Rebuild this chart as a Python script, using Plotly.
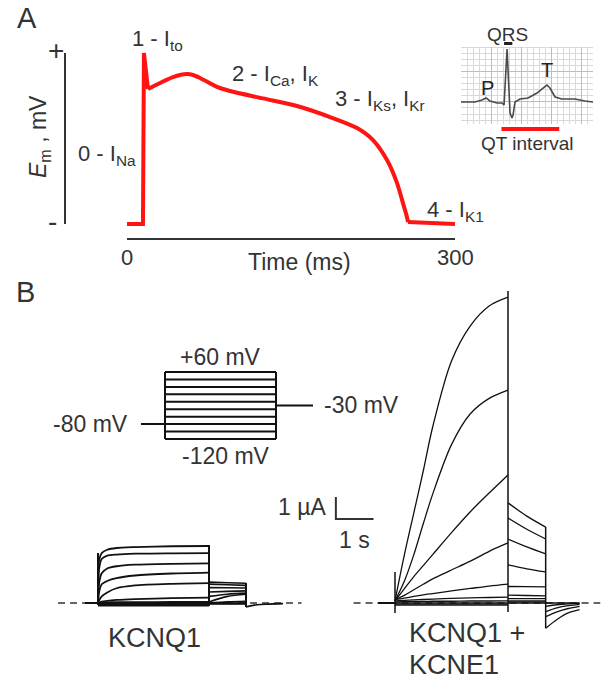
import plotly.graph_objects as go

W, H = 608, 698
INK = "#111111"
TEXT = "#333333"
RED = "#ff1414"
FONT = "Liberation Sans, Arial, Helvetica, sans-serif"

# ---------------- Panel A: ventricular action potential (schematic) ----------------
ap_time_ms = [0, 14.6, 15.5, 19.2, 30.2, 42.1, 54.9, 60.4, 66.8, 82.3, 94.2, 124.4,
              155.5, 185.7, 210.4, 225.0, 237.8, 247.0, 252.4, 256.1, 257.0, 300]
ap_mv = [-85, -85, 45, 17.6, 22.2, 26.7, 29.0, 28.3, 26.0, 19.2, 16.1, 10.5,
         4.7, -3.7, -12.1, -21.2, -36.4, -53.9, -69.1, -79.8, -83.5, -85]
ap_time_ticks = [0, 300]
ap_mv_span = [-85, 45]

# ---------------- ECG inset ----------------
ecg_t_s = [0, 0.093, 0.14, 0.167, 0.193, 0.24, 0.273, 0.287, 0.307, 0.327, 0.34, 0.347,
           0.36, 0.393, 0.447, 0.507, 0.547, 0.573, 0.593, 0.627, 0.673, 0.76, 0.827, 0.88]
ecg_mv = [0, 0, 0.033, 0.067, 0.017, -0.017, -0.017, -0.05, 0.883, -0.183, -0.267, -0.217,
          0, 0.05, 0.067, 0.15, 0.233, 0.283, 0.233, 0.083, 0.05, 0.05, 0.017, 0]
qt_interval_s = [0.27, 0.655]
qrs_marker_s = [0.287, 0.34]

# ---------------- Panel B: voltage protocol ----------------
step_mv = [60, 40, 20, 0, -20, -40, -60, -80, -100, -120]
holding_mv = -80
tail_mv = -30
hold_t_s = [-0.65, 0]
pulse_t_s = [0, 3]
tail_t_s = [3, 4]

# ---------------- KCNQ1 currents (uA), one row per step, +60 mV first ----------------
kcnq1_pulse_t = [0, 0.03, 0.1, 0.25, 0.5, 1.0, 2.0, 3.0]
kcnq1_pulse_ua = [
    [0, 1.95, 2.27, 2.42, 2.50, 2.54, 2.58, 2.59],
    [0, 1.55, 2.00, 2.15, 2.20, 2.24, 2.26, 2.27],
    [0, 0.90, 1.35, 1.57, 1.67, 1.74, 1.78, 1.80],
    [0, 0.50, 0.85, 1.00, 1.13, 1.25, 1.34, 1.38],
    [0, 0.12, 0.30, 0.48, 0.67, 0.80, 0.87, 0.90],
    [0, 0.02, 0.06, 0.10, 0.14, 0.18, 0.22, 0.24],
    [0, 0.01, 0.02, 0.03, 0.035, 0.04, 0.045, 0.05],
    [0, 0, 0, 0, 0, 0, 0, 0],
    [-0.05, -0.05, -0.05, -0.05, -0.05, -0.05, -0.05, -0.05],
    [-0.12, -0.12, -0.12, -0.12, -0.12, -0.12, -0.12, -0.12],
]
kcnq1_tail_t = [3.0, 3.5, 4.0]
kcnq1_tail_ua = [
    [0.95, 0.92, 0.90],
    [0.86, 0.83, 0.80],
    [0.70, 0.69, 0.68],
    [0.50, 0.53, 0.55],
    [0.30, 0.40, 0.45],
    [0.05, 0.30, 0.40],
    [0.00, 0.05, 0.08],
    [0.00, 0.00, 0.00],
    [-0.02, -0.02, -0.02],
    [-0.04, -0.04, -0.04],
]
kcnq1_post_t = [4.0, 4.3, 4.6, 5.0]
kcnq1_post_ua = [-0.18, -0.08, -0.05, -0.03]
kcnq1_hold_t = [-0.35, 0]
kcnq1_transient_t = [0, 3, 4]
kcnq1_transient_lo = [-0.09, -0.14, -0.18]
kcnq1_transient_hi = [2.27, 2.64, 0.91]
kcnq1_zero_t = [-1.08, 5.5]

# ---------------- KCNQ1 + KCNE1 currents (uA) ----------------
kcne1_pulse_t = [0, 0.25, 0.5, 0.75, 1.0, 1.5, 2.0, 2.5, 3.0]
kcne1_pulse_ua = [
    [0.10, 2.2, 4.1, 6.0, 8.0, 11.0, 12.6, 13.5, 13.9],
    [0.10, 1.0, 2.2, 3.6, 4.95, 7.2, 8.6, 9.3, 9.68],
    [0.10, 0.65, 1.2, 1.7, 2.2, 3.2, 4.15, 5.0, 5.82],
    [0.15, 0.35, 0.6, 0.85, 1.1, 1.5, 1.9, 2.35, 2.73],
    [0.15, 0.22, 0.30, 0.37, 0.43, 0.55, 0.66, 0.77, 0.86],
    [0.10, 0.12, 0.14, 0.16, 0.18, 0.21, 0.23, 0.25, 0.27],
    [0.05, 0.06, 0.07, 0.07, 0.08, 0.08, 0.09, 0.09, 0.10],
    [0, 0, 0, 0, 0, 0, 0, 0, 0],
    [-0.05, -0.05, -0.05, -0.05, -0.05, -0.05, -0.05, -0.05, -0.05],
    [-0.10, -0.10, -0.10, -0.10, -0.10, -0.10, -0.10, -0.10, -0.10],
]
kcne1_tail_t = [3.0, 3.5, 4.0]
kcne1_tail_ua = [
    [4.55, 3.95, 3.45],
    [3.86, 3.35, 2.91],
    [2.91, 2.55, 2.23],
    [1.73, 1.55, 1.41],
    [0.75, 0.74, 0.73],
    [0.36, 0.34, 0.32],
    [0.20, 0.20, 0.20],
    [0.10, 0.10, 0.10],
    [0.05, 0.05, 0.05],
    [0.00, 0.00, 0.00],
]
kcne1_post_t = [4.0, 4.3, 4.6, 4.9]
kcne1_post_ua = [
    [-1.15, -0.75, -0.45, -0.30],
    [-0.62, -0.40, -0.25, -0.15],
    [-0.39, -0.22, -0.12, -0.06],
    [-0.15, -0.08, -0.04, -0.02],
    [0, 0, 0, 0],
]
kcne1_hold_t = [-0.45, 0]
kcne1_transient_t = [0, 3, 4]
kcne1_transient_lo = [-0.45, -0.41, -1.15]
kcne1_transient_hi = [1.41, 14.18, 3.45]
kcne1_zero_t = [-1.1, 5.45]

# scale bar (in KCNQ1+KCNE1 axis units)
scalebar_t_s = 1.0
scalebar_i_ua = 1.0
scalebar_origin = (-1.57, 3.82)


# ---------------- helpers ----------------
def px(x):
    return x / W


def py(y):
    return 1 - y / H


def dom(d0, d1, p0, p1, lo, hi, size, vertical=False):
    s = (p1 - p0) / (d1 - d0)
    a = p0 + (lo - d0) * s
    b = p0 + (hi - d0) * s
    if vertical:
        return [1 - a / size, 1 - b / size]
    return [a / size, b / size]


fig = go.Figure()


def line(x, y, xa, ya, color=INK, width=1.5, shape="linear", dash=None, smoothing=0.9):
    ln = dict(color=color, width=width, shape=shape)
    if shape == "spline":
        ln["smoothing"] = smoothing
    if dash:
        ln["dash"] = dash
    fig.add_trace(go.Scatter(x=x, y=y, mode="lines", line=ln, xaxis=xa, yaxis=ya,
                             hoverinfo="skip", showlegend=False))


# ---- AP ----
line(ap_time_ms[0:4], ap_mv[0:4], "x", "y", RED, 4)
line(ap_time_ms[3:21], ap_mv[3:21], "x", "y", RED, 4, "spline", smoothing=0.8)
line(ap_time_ms[20:], ap_mv[20:], "x", "y", RED, 4)

# ---- ECG ----
line(ecg_t_s, ecg_mv, "x2", "y2", "#4a4a4a", 1.6)

# ---- protocol ----
px_x, px_y = [], []
for v in step_mv:
    px_x += [pulse_t_s[0], pulse_t_s[1], None]
    px_y += [v, v, None]
for t in pulse_t_s:
    px_x += [t, t, None]
    px_y += [min(step_mv), max(step_mv), None]
px_x += hold_t_s + [None] + tail_t_s
px_y += [holding_mv, holding_mv, None, tail_mv, tail_mv]
line(px_x, px_y, "x3", "y3", INK, 2)

# ---- KCNQ1 ----
line(kcnq1_zero_t, [0, 0], "x4", "y4", "#333333", 1.4, dash="7px,5px")
line(kcnq1_hold_t, [0, 0], "x4", "y4", INK, 2)
for row in kcnq1_pulse_ua:
    line(kcnq1_pulse_t, row, "x4", "y4", INK, 1.8, "spline", smoothing=0.7)
for row in kcnq1_tail_ua:
    line(kcnq1_tail_t, row, "x4", "y4", INK, 1.6, "spline")
line(kcnq1_post_t, kcnq1_post_ua, "x4", "y4", INK, 1.6, "spline")
for t, lo, hi in zip(kcnq1_transient_t, kcnq1_transient_lo, kcnq1_transient_hi):
    line([t, t], [lo, hi], "x4", "y4", INK, 2)

# ---- KCNQ1 + KCNE1 ----
line(kcne1_zero_t, [0, 0], "x5", "y5", "#333333", 1.4, dash="7px,5px")
line(kcne1_hold_t, [0, 0], "x5", "y5", INK, 2)
for row in kcne1_pulse_ua:
    line(kcne1_pulse_t, row, "x5", "y5", INK, 1.3, "spline")
for row in kcne1_tail_ua:
    line(kcne1_tail_t, row, "x5", "y5", INK, 1.3, "spline")
for row in kcne1_post_ua:
    line(kcne1_post_t, row, "x5", "y5", INK, 1.3, "spline")
for t, lo, hi in zip(kcne1_transient_t, kcne1_transient_lo, kcne1_transient_hi):
    line([t, t], [lo, hi], "x5", "y5", INK, 1.5)

# scale bar
t0, i0 = scalebar_origin
line([t0, t0, t0 + scalebar_t_s], [i0 + scalebar_i_ua, i0, i0], "x5", "y5", TEXT, 2)

# ---------------- axes ----------------
hidden = dict(visible=False, showgrid=False, zeroline=False, fixedrange=True)
layout_axes = dict(
    xaxis=dict(domain=dom(0, 300, 127, 455, 0, 300, W), range=[0, 300], anchor="free",
               position=py(239), showline=True, linecolor=TEXT, linewidth=2,
               showticklabels=False, ticks="", showgrid=False, zeroline=False),
    yaxis=dict(domain=dom(-85, 45, 224, 53, -92, 52, H, True), range=[-92, 52],
               anchor="x", **hidden),
    xaxis2=dict(domain=dom(0, 0.88, 461, 593, 0, 0.88, W), range=[0, 0.88], anchor="y2",
                showgrid=True, gridcolor="#bdbdbd", gridwidth=1, tick0=0, dtick=0.2,
                minor=dict(dtick=0.04, showgrid=True, gridcolor="#d9d9d9", gridwidth=1),
                showticklabels=False, ticks="", zeroline=False, showline=False),
    yaxis2=dict(domain=dom(0, 0.883, 102, 49, -0.37, 0.92, H, True), range=[-0.37, 0.92],
                anchor="x2", showgrid=True, gridcolor="#bdbdbd", gridwidth=1, tick0=0,
                dtick=0.5, minor=dict(dtick=0.1, showgrid=True, gridcolor="#d9d9d9",
                                      gridwidth=1),
                showticklabels=False, ticks="", zeroline=False, showline=False),
    xaxis3=dict(domain=dom(0, 3, 165, 276, -2.6, 6.6, W), range=[-2.6, 6.6], anchor="y3",
                **hidden),
    yaxis3=dict(domain=dom(-120, 60, 439, 372, -135, 75, H, True), range=[-135, 75],
                anchor="x3", **hidden),
    xaxis4=dict(domain=dom(0, 3, 98, 209, -1.2, 5.6, W), range=[-1.2, 5.6], anchor="y4",
                **hidden),
    yaxis4=dict(domain=dom(0, 1, 603, 581, -0.6, 3.0, H, True), range=[-0.6, 3.0],
                anchor="x4", **hidden),
    xaxis5=dict(domain=dom(0, 3, 395, 508, -1.8, 5.6, W), range=[-1.8, 5.6], anchor="y5",
                **hidden),
    yaxis5=dict(domain=dom(0, 1, 603, 581, -1.5, 14.6, H, True), range=[-1.5, 14.6],
                anchor="x5", **hidden),
)

# ---------------- texts ----------------
anns = []


def ann(text, x, y, size, xanchor="center", yanchor="middle", xref="paper", yref="paper",
        angle=0, color=TEXT):
    anns.append(dict(text=text, x=x, y=y, xref=xref, yref=yref, xanchor=xanchor,
                     yanchor=yanchor, showarrow=False, textangle=angle,
                     font=dict(family=FONT, size=size, color=color)))


ann("A", px(27), py(18), 29)
ann("B", px(25), py(292), 29)
ann("+", px(56), ap_mv_span[1] + 2, 28, yref="y")
ann("-", px(53), ap_mv_span[0] + 2, 28, yref="y")
ann("<i>E</i><sub>m</sub> , mV", px(40), py(137), 23, angle=-90)
ann("0 - I<sub>Na</sub>", px(76), py(155), 22, xanchor="left")
ann("1 - I<sub>to</sub>", px(157), py(40), 22)
ann("2 - I<sub>Ca</sub>, I<sub>K</sub>", px(230), py(75), 22, xanchor="left")
ann("3 - I<sub>Ks</sub>, I<sub>Kr</sub>", px(333), py(100), 22, xanchor="left")
ann("4 - I<sub>K1</sub>", px(425), py(211), 22, xanchor="left")
ann(str(ap_time_ticks[0]), ap_time_ticks[0], py(258), 22, xref="x")
ann(str(ap_time_ticks[1]), ap_time_ticks[1], py(258), 22, xref="x")
ann("Time (ms)", px(299), py(262), 23)

ann("QRS", px(507), py(34), 19)
ann("P", px(487), py(88), 20, color="#222222")
ann("T", px(547), py(70), 20, color="#222222")
ann("QT interval", px(527), py(143), 19)

ann("+60 mV", 1.5, py(357), 23, xref="x3")
ann("-120 mV", 1.65, py(456), 23, xref="x3")
ann("-80 mV", hold_t_s[0] - 0.3, holding_mv, 23, xanchor="right", xref="x3", yref="y3")
ann("-30 mV", tail_t_s[1] + 0.25, tail_mv, 23, xanchor="left", xref="x3", yref="y3")

ann("1 \u00b5A", t0 - 0.2, i0 + 0.55 * scalebar_i_ua, 23, xanchor="right", xref="x5",
    yref="y5")
ann("1 s", t0 + 0.5 * scalebar_t_s, py(540), 23, xref="x5")
ann("KCNQ1", px(155), py(638), 27)
ann("KCNQ1 +", px(407), py(633), 27, xanchor="left")
ann("KCNE1", px(407), py(665), 27, xanchor="left")

# ---------------- shapes (decorations) ----------------
shapes = [
    # vertical Em axis line of panel A
    dict(type="line", xref="paper", yref="y", x0=px(65), x1=px(65),
         y0=ap_mv_span[0], y1=ap_mv_span[1], line=dict(color=TEXT, width=2)),
    # QT interval bar
    dict(type="line", xref="x2", yref="paper", x0=qt_interval_s[0], x1=qt_interval_s[1],
         y0=py(129), y1=py(129), line=dict(color=RED, width=4)),
    # QRS marker
    dict(type="rect", xref="x2", yref="paper", x0=qrs_marker_s[0], x1=qrs_marker_s[0] + 0.055,
         y0=py(45), y1=py(42), line=dict(width=0), fillcolor="#222222"),
]

fig.update_layout(
    width=W, height=H, margin=dict(l=0, r=0, t=0, b=0),
    paper_bgcolor="white", plot_bgcolor="rgba(0,0,0,0)", showlegend=False,
    annotations=anns, shapes=shapes, font=dict(family=FONT, color=TEXT),
    **layout_axes,
)

fig.write_html("out.html", config={"displayModeBar": False, "staticPlot": True},
               post_script="document.body.style.margin='0px';")
